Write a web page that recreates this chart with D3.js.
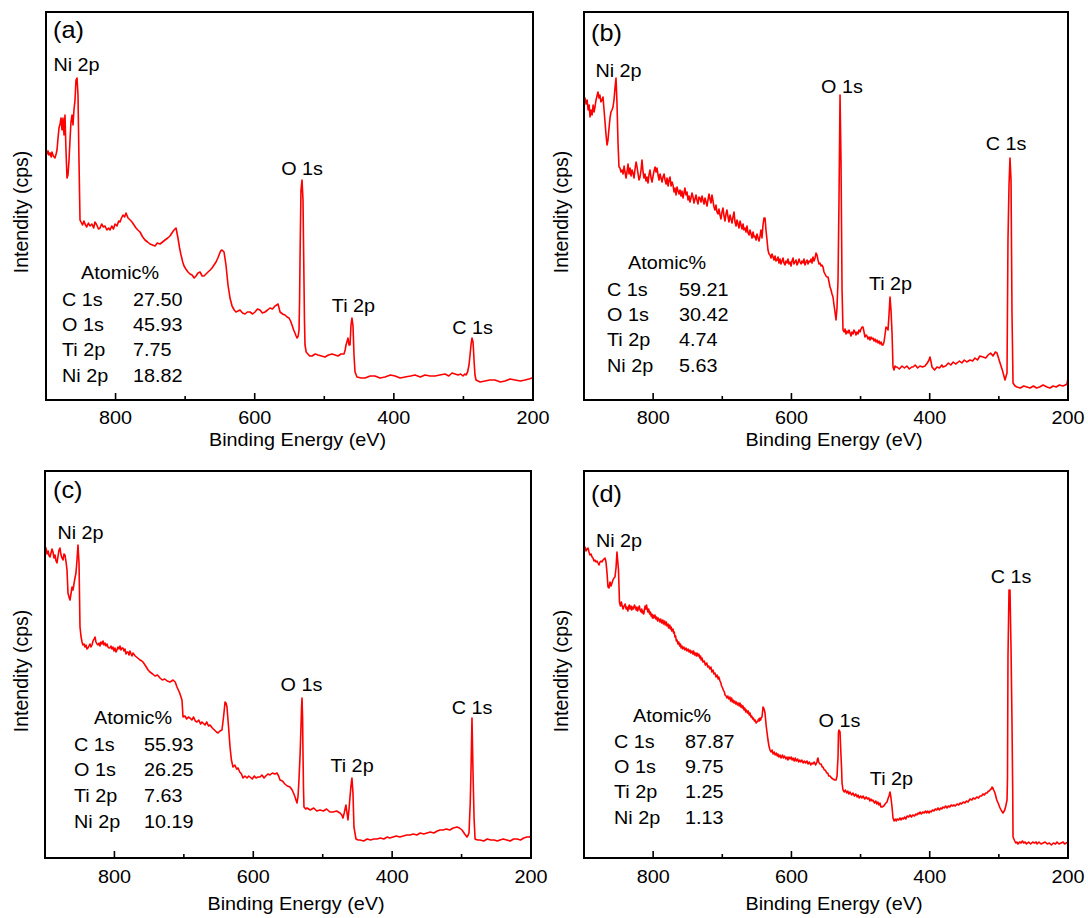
<!DOCTYPE html>
<html><head><meta charset="utf-8">
<script src="https://cdn.jsdelivr.net/npm/d3@7"></script>
<style>
body{margin:0;background:#fff;}
svg text{font-family:"Liberation Sans",Arial,sans-serif;fill:#000;}
</style>
</head><body><svg id="chart" width="1088" height="918"></svg>
<script>
// ---- DATA: [binding energy (eV), intensity (arb. cps units)] ----
const spectrumA = [[900,252],[898.5,246],[897,249],[895.7,245],[894,247],[892.5,243],[891.4,248],[889.5,244],[887.1,242],[885.5,246],[884.2,250],[882.7,262],[881.3,272],[879.8,276],[878.4,282],[877,270],[875.6,282],[874.1,265],[872.7,285],[871.3,250],[869.8,222],[868.4,225],[866.9,240],[865.5,260],[864.1,278],[862.6,285],[861.2,275],[859.8,290],[858.3,300],[856.9,320],[855.4,322],[854,305],[852.6,240],[851.1,180],[849.7,178],[847.5,175],[845.5,179],[843.9,176],[841.5,173],[839,177],[836.8,174],[834,176],[831.5,172],[829.6,178],[827,175],[824.5,171],[822.4,172],[820,176],[817.5,173],[815.2,174],[812.5,170],[810,172],[808,170],[805.5,174],[803,171],[800.8,176],[798,174],[795.5,179],[793.6,178],[791.5,182],[789.3,185],[787,183],[785,187],[782.1,182],[779,180],[776.4,178],[773.5,175],[770.6,172],[768,170],[764.9,168],[761,163],[757.7,160],[754,158],[750.5,156],[747,155],[743.3,154],[740,157],[736.1,156],[732.5,158],[728.9,160],[725,162],[721.8,164],[719,167],[716,170],[713.1,172],[710.3,162],[708,152],[705.9,145],[703.5,138],[701.6,134],[699,131],[695.9,128],[693,126],[690.1,125],[687,122],[684.4,124],[681.5,127],[678.6,128],[675.5,124],[672.9,124],[670,126],[667.1,128],[664,130],[661.4,132],[658.5,135],[655.6,138],[653,142],[651.3,145],[649,149],[647,150],[644.1,148],[641.3,135],[638.4,115],[635.5,102],[632.6,94],[629.5,90],[626.9,88],[624,89],[621.1,90],[617.5,87],[614,86],[610.5,88],[606.8,88],[603,86],[599.6,88],[596,91],[592.4,90],[589,87],[585.2,88],[581.5,90],[578,92],[574.5,91],[570.8,94],[568.5,95],[566.5,96],[565,92],[563.6,88],[560,86],[556.5,85],[553.5,83],[550.7,82],[548.5,79],[546.4,75],[544,70],[542.1,67],[540.5,64],[539.2,62],[537.5,64],[536.3,70],[535.5,100],[534.9,140],[533.5,210],[532,220],[530.6,200],[529.2,120],[528.5,80],[527.7,55],[526,48],[524.8,47],[521,44],[517.7,44],[513,46],[509,45],[504,44],[499,43],[494,45],[488.9,46],[484.5,45],[480.3,44],[476,46],[471.7,46],[470,50],[468.8,55],[467.5,58],[465.9,62],[464.5,55],[463,55],[462.3,65],[461.6,75],[460.2,82],[458.7,74],[457.3,45],[455.8,28],[453,23],[447,22],[441.5,22],[434,24],[427.1,24],[420,22],[412.7,23],[405,25],[398.3,24],[391,22],[383.9,23],[376,24],[369.6,25],[362,23],[355.2,25],[348,24],[340.8,24],[334,25],[326.5,26],[321,24],[316.4,27],[312,26],[307.8,25],[304,26],[300.6,24],[298,26],[296.3,25],[294,28],[292,35],[290.5,45],[289.1,55],[287.7,62],[286.2,58],[285.5,50],[284.8,40],[283.4,25],[281.9,20],[276,18],[269,19],[262,20],[254.6,20],[247,18],[240.2,19],[233,21],[225.9,20],[218,19],[211.5,20],[206,21],[201.4,22],[200,23]];

const spectrumB = [[900,302],[898.6,302],[897,296],[895.5,300],[894,290],[892.5,295],[891.3,283],[889.8,290],[888.3,285],[886.8,295],[885.5,288],[884.1,293],[882.6,300],[881.2,304],[879.8,308],[878.3,302],[877,305],[875.5,298],[874,300],[872.5,303],[871,290],[869.6,278],[868.1,265],[866.7,255],[865.3,260],[863.8,272],[862.4,282],[861,288],[859.5,290],[858.1,293],[856.6,300],[855.2,312],[853.7,322],[852.3,297],[850.8,257],[849.4,233],[847.9,232],[846.5,228],[845,230],[843.5,226],[842,234],[840.7,228],[839.2,222],[837.8,228],[836.3,236],[834.9,226],[833.4,232],[832,224],[830.5,230],[829.1,227],[827.6,222],[826.2,231],[824.7,238],[823.3,233],[821.8,226],[820.4,220],[819,223],[817.5,230],[816.1,240],[814.6,228],[813.2,222],[811.8,226],[810.3,219],[808.9,223],[807.4,217],[806,225],[804.5,230],[803,222],[801.6,218],[800.1,224],[798.7,229],[797.2,233],[795.8,228],[794.4,232],[792.9,225],[791.5,220],[790,226],[788.6,222],[787.1,218],[785.7,223],[784.2,226],[782.8,220],[781.3,216],[779.9,222],[778.4,214],[777,220],[775.6,223],[774.1,214],[772.7,218],[771.3,215],[769.8,208],[768.4,212],[766.9,205],[765.5,213],[764,209],[762.6,206],[761.2,210],[759.7,204],[758.3,209],[756.8,202],[755.4,207],[754,212],[752.5,205],[751,208],[749.6,200],[748.1,204],[746.7,198],[745.3,202],[743.8,207],[742.4,203],[740.9,197],[739.5,201],[738,205],[736.6,200],[735.1,196],[733.7,203],[732.2,202],[730.8,198],[729.3,204],[727.9,200],[726.4,196],[725,202],[723.5,198],[722.1,194],[720.7,200],[719.2,206],[717.8,201],[716.3,197],[714.9,205],[713.4,199],[712,193],[710.6,190],[709.1,195],[707.7,188],[706.2,186],[704.8,191],[703.3,185],[701.9,181],[700.4,188],[699,192],[697.5,184],[696.1,179],[694.6,186],[693.2,190],[691.7,183],[690.3,178],[688.8,185],[687.4,181],[685.9,177],[684.5,183],[683,188],[681.6,178],[680.1,174],[678.7,180],[677.2,176],[675.8,172],[674.3,179],[672.9,175],[671.4,171],[670,176],[668.6,170],[667.1,172],[665.7,168],[664.2,174],[662.8,167],[661.3,165],[659.9,170],[658.4,166],[657,162],[655.5,168],[654.1,163],[652.7,164],[651.2,160],[649.8,166],[648.3,162],[646.9,159],[645.4,164],[644,170],[642.6,162],[641.1,175],[639.7,182],[638.2,182],[636.8,170],[635.3,160],[633.9,150],[632.4,146],[631,145],[629.5,142],[628.1,146],[626.6,143],[625.2,140],[623.7,144],[622.3,139],[620.9,140],[619.4,143],[618,137],[616.5,141],[615.1,136],[613.6,139],[612.2,142],[610.8,137],[609.3,135],[607.9,139],[606.4,137],[605,141],[603.5,136],[602,138],[600.6,134],[599.2,139],[597.7,142],[596.3,136],[594.8,138],[593.4,140],[591.9,135],[590.5,137],[589,141],[587.6,138],[586.1,136],[584.7,139],[583.2,137],[581.8,141],[580.3,135],[578.9,138],[577.4,140],[576,136],[574.5,139],[573.1,138],[571.6,141],[570.2,137],[568.8,143],[567.3,139],[565.9,142],[564.4,147],[563,145],[561.6,140],[560.1,136],[558.7,137],[557.2,134],[555.8,135],[554.3,133],[552.9,128],[551.4,126],[550,124],[548.5,123],[547.1,123],[545.6,118],[544.2,113],[542.7,110],[541.3,106],[539.9,103],[538.4,95],[537,88],[535.5,80],[534.1,92],[532.6,120],[531.2,200],[529.7,305],[528.3,240],[526.8,110],[525.4,70],[523.9,68],[522.5,71],[521,66],[519.6,69],[518.1,67],[516.7,70],[515.3,67],[513.8,64],[512.4,68],[510.9,66],[509.5,70],[508,68],[506.6,65],[505.2,68],[503.7,66],[502.3,70],[500.8,68],[499.4,71],[497.9,73],[496.5,73],[495,68],[493.6,63],[492.1,65],[490.7,64],[489.2,61],[487.8,63],[486.3,60],[484.9,63],[483.4,61],[482,62],[480.5,59],[479.1,61],[477.6,58],[476.2,60],[474.7,57],[473.3,59],[471.8,56],[470.4,58],[468.9,55],[467.6,55],[466.1,58],[464.7,65],[463.2,73],[461.8,72],[460.3,70],[458.9,85],[457.4,103],[456,90],[454.5,67],[453.1,33],[451.6,30],[450.2,34],[448.7,33],[447.3,33],[444,31],[440,34],[436.5,32],[433,34],[429.5,31],[426,33],[424.2,33],[421,35],[417.5,32],[414,34],[410.5,33],[406.8,34],[403.5,37],[401,40],[399.6,43],[398,38],[396.7,33],[393,30],[389.5,33],[386,32],[382.5,35],[380.8,33],[377,34],[373,37],[369.5,35],[366,38],[362.5,36],[360.5,37],[357,39],[353.5,37],[350,40],[346.5,38],[341.7,40],[338,39],[334.5,42],[331,40],[327.5,44],[322.9,43],[319,42],[315.5,45],[312,47],[308.5,44],[305,48],[302.7,47],[300.5,42],[298.3,37],[295,30],[291.1,20],[289.5,24],[288.2,27],[286.8,160],[285.3,215],[283.9,242],[282.4,220],[281,87],[279.5,17],[276.5,14],[273.8,13],[269,12],[264,14],[259.5,13],[254.9,12],[250,14],[245.5,12],[241,13],[236,15],[230.4,13],[226,12],[221.5,14],[217,13],[212.5,15],[207.2,14],[204,15],[201.5,16],[200,22]];

const spectrumC = [[900,308],[898.6,310],[897,304],[895.5,307],[894,302],[892.8,301],[891.3,305],[889.9,309],[888.5,306],[887,300],[885.6,303],[884.1,297],[882.7,295],[881.2,302],[879.8,308],[878.4,310],[876.9,303],[875.5,300],[874.1,298],[872.6,304],[871.2,303],[869.7,296],[868.3,288],[866.9,265],[865.4,261],[864,258],[862.6,264],[861.1,271],[859.7,268],[858.3,274],[856.8,280],[855.4,285],[853.9,298],[852.5,313],[851,295],[849.6,231],[848.2,222],[846.7,216],[845.3,213],[843.8,214],[842.4,211],[841,213],[839.5,209],[838.1,210],[836.7,212],[835.2,214],[833.8,211],[832.3,213],[830.9,217],[829.4,219],[828,221],[826.6,216],[825.1,214],[823.7,213],[822.2,215],[820.8,212],[819.4,216],[817.9,214],[816.5,217],[815,213],[813.6,215],[812.2,212],[810.7,214],[809.3,211],[807.8,210],[806.4,210],[805,212],[803.5,209],[802.1,211],[800.6,207],[799.2,210],[797.7,206],[796.3,208],[794.9,211],[793.4,209],[792,212],[790.5,208],[789.1,210],[787.7,210],[786.2,207],[784.8,209],[783.3,204],[781.9,206],[780.5,206],[779,203],[777.6,207],[776.1,204],[774.7,202],[773.3,205],[770,202],[766.5,200],[763.2,198],[760.5,197],[758.9,196],[755,192],[751.5,188],[748.8,186],[745,184],[741.5,182],[738,183],[734.4,180],[731,178],[727.5,179],[724,177],[720,176],[717.5,177],[715.6,178],[712.5,176],[709.9,171],[706,165],[702.7,158],[701.2,141],[698.5,142],[696,139],[693.5,141],[691.2,140],[688.5,138],[686,141],[683.5,137],[681.1,136],[678.5,138],[676,134],[674,136],[672.4,135],[669.5,133],[667,136],[664.5,132],[662.3,133],[659,130],[656,128],[653,126],[650.8,125],[648,127],[645.1,128],[643,140],[641.5,150],[640.7,156],[639.3,155],[637.9,151],[635.5,130],[633.5,111],[631.5,98],[629.2,91],[626.5,93],[624,89],[622,90],[619.5,86],[617,84],[614.8,80],[612,82],[609,80],[606.5,82],[604.7,81],[601.5,79],[598.5,82],[596,80],[593.2,81],[590.3,81],[587.5,83],[584.5,80],[582,82],[579,84],[575.9,83],[572.5,85],[569,84],[565.9,85],[563.5,82],[561.5,78],[558,77],[554.5,74],[551,72],[547.1,71],[544,68],[541.5,64],[539.9,61],[538.5,58],[537,55],[535.5,62],[534.2,78],[532.5,105],[531.3,131],[530.5,150],[529.8,160],[529,140],[528.4,105],[527.7,70],[527,51],[524.5,49],[522.6,50],[518,48],[513,50],[508.5,47],[503.9,48],[499,47],[494.5,49],[489.5,46],[485.2,46],[480,47],[475.1,45],[472.5,43],[470.8,40],[469,45],[467.5,50],[466.5,53],[465,45],[463.6,38],[462.2,48],[460.7,61],[459.3,72],[457.9,80],[456.4,65],[455,31],[452.1,19],[449,18],[446.3,18],[441,17],[436,19],[431,18],[426.5,19],[421.8,19],[417,20],[412,19],[407,21],[403.5,20],[398.8,21],[394,22],[389,21],[384,22],[379,23],[374.3,23],[369.5,24],[364.5,23],[359.5,25],[354.5,24],[349.8,25],[345,26],[340,25],[335,27],[331,28],[326.8,28],[322,29],[317,28],[312,30],[306.6,31],[303,30],[299.4,28],[295.5,24],[292.2,21],[290.5,23],[289.3,25],[287.5,55],[286.4,88],[285,140],[283.5,85],[282,40],[280.6,19],[277,18],[273.5,18],[268,17],[263,19],[258,18],[253,18],[248.5,17],[244.7,18],[240,19],[235,18],[230,17],[225,19],[220.2,19],[215,18],[210.5,20],[205.8,21],[202.5,21],[200,22]];

const spectrumD = [[900,311],[898.6,311],[897,307],[895.7,309],[894.2,310],[892.8,306],[891.3,303],[889.8,304],[888.4,301],[887,300],[885.5,297],[884.1,298],[882.7,296],[881.2,297],[879.8,295],[878.3,293],[876.9,296],[875.4,297],[874,296],[872.5,298],[871.1,299],[869.6,300],[868.2,296],[866.7,285],[865.3,271],[863.8,270],[862.4,276],[860.9,272],[859.5,275],[858.1,278],[856.6,280],[855.2,281],[853.7,290],[852.3,306],[850.1,288],[848.7,256],[847.3,252],[846,256],[845,253],[843.5,249],[842,252],[840.5,254],[839,249],[838,251],[836.5,247],[835.6,251],[834.5,253],[833.5,249],[832,252],[831,248],[829.5,251],[828.5,249],[827,253],[826,251],[824.5,248],[823.5,251],[822.5,247],[821.4,249],[820,252],[819,248],[817.5,246],[816.5,249],[815.5,245],[814.7,247],[813.5,244],[812.5,249],[811.5,252],[810.5,249],[809.5,253],[808.9,250],[807.5,246],[806.5,249],[805,244],[804,246],[803,242],[802,244],[801,240],[800.2,243],[799,240],[797.5,243],[796,239],[795,241],[793.5,237],[792.5,240],[791,238],[790.1,236],[789,239],[787.5,235],[786,238],[785,234],[783.5,237],[782.5,233],[781,236],[780,232],[778.5,234],[777.5,230],[776,233],[775,229],[774,231],[773,227],[771.3,229],[770.5,225],[769.5,226],[768.5,221],[767.5,222],[766.5,217],[765.5,218],[764,214],[763,216],[761.5,212],[760.5,214],[759.5,210],[758.3,212],[757,209],[755.5,211],[754,208],[752.5,210],[751,207],[749.5,209],[748,206],[746.7,208],[745.5,205],[744,207],[742.5,204],[741.5,207],[740,203],[739,205],[737.5,202],[736.6,205],[735,202],[734,204],[732.5,200],[731.5,202],[730.5,198],[729.3,200],[728,196],[726,197],[724.5,193],[722.5,195],[721,191],[719.5,192],[718,189],[716.5,191],[715,186],[713.5,188],[712,184],[710.5,185],[709,181],[707.5,183],[706,179],[705,181],[703.3,177],[702,175],[701,172],[699.5,170],[698.5,168],[697,166],[696,163],[694.5,162],[693.2,160],[692,162],[690.5,159],[689,161],[688,157],[686.5,160],[685.5,156],[684.5,158],[683,155],[682,157],[680.5,154],[679.5,156],[678,153],[677,155],[675.5,152],[674.5,155],[673,151],[672,153],[671,150],[670,152],[668.5,148],[667.5,150],[666,146],[665,148],[663.5,145],[662.5,147],[661,143],[659.9,145],[658.5,141],[657.5,142],[656,139],[655,140],[653.5,137],[652.5,138],[651,135],[649.8,136],[648.5,137],[647.5,139],[646.5,137],[645.5,140],[644.5,138],[643.8,140],[642.6,141],[641.8,146],[641.1,151],[640.2,150],[639.2,148],[638.2,145],[636.5,132],[635,124],[633.9,118],[632.5,112],[631,108],[629.5,106],[628,108],[626.5,104],[625,106],[623.5,103],[622,105],[620.5,102],[619.5,104],[618,101],[616.5,103],[615,100],[613,103],[611.5,100],[610,102],[608,99],[606.5,101],[605,98],[603.5,101],[602,99],[600.5,101],[599,98],[597.7,100],[596,97],[594.5,100],[593,97],[591,99],[589.5,96],[588,98],[586.5,96],[585,98],[583,95],[581.5,97],[579.5,95],[577.5,97],[576,94],[574,96],[572,93],[570.5,95],[569,94],[567,96],[565,93],[563,96],[562.3,99],[561.6,100],[560.5,96],[559,94],[557,94],[555.5,91],[554.3,91],[552.5,88],[551,88],[549,85],[547.5,85],[546,82],[544.2,82],[542,80],[539.9,79],[537.5,78],[535.5,78],[534,82],[533.5,90],[532.6,101],[532,125],[531.2,128],[530.5,127],[529.7,126],[528.8,110],[527.5,90],[526.8,75],[525.4,68],[523.5,66],[522,68],[520,65],[518.5,67],[517,64],[515.3,66],[513,63],[511,65],[509,62],[507,64],[505,61],[503.7,63],[502,60],[500,62],[498,60],[496.5,62],[494,59],[492,61],[490,59],[488,60],[486.5,57],[485,59],[483.5,57],[482,58],[480,55],[478,57],[476.5,54],[475,56],[473.5,53],[472,55],[470.5,51],[469,51],[466.5,52],[464.5,54],[461.8,56],[460,60],[458.9,62],[457.4,66],[456,60],[454.5,51],[453.1,40],[451.5,37],[450,39],[448.5,37],[447.3,39],[445,38],[443,40],[441.5,38],[440,40],[438,39],[436.5,41],[434.5,39],[432.8,42],[430.5,41],[428.5,43],[426.5,41],[424.5,43],[422,42],[420,44],[418.5,43],[417,45],[415.5,44],[414,46],[412,44],[410,46],[408,45],[406,47],[404.5,45],[403,47],[401,45],[399.6,47],[398,46],[396,48],[394,47],[392,49],[390,48],[388,50],[386,48],[384,50],[382.5,49],[380.8,51],[379,50],[377,52],[375,50],[373,52],[371,51],[369,53],[367,52],[365,53],[363,52],[360.5,54],[358,53],[356,55],[354,54],[351.5,56],[349,55],[347,57],[344.5,56],[341.7,59],[339,58],[337,60],[334.5,59],[332,61],[329.5,60],[327.3,62],[325,62],[323,64],[321,63],[319,65],[317,65],[315,67],[313.5,67],[312,69],[310.5,69],[309.9,71],[308.5,70],[307.5,68],[305.6,65],[303,58],[300.5,54],[298.3,50],[296,47],[294,45],[291.5,48],[290,52],[288.2,58],[287.5,80],[286.8,201],[285.3,268],[283.9,268],[282.4,210],[281,135],[280,70],[279.5,21],[277,17],[275.5,15],[274,16],[272.3,14],[270,16],[268,15],[266,17],[264,15],[262,16],[260,14],[257,16],[254,14],[251,16],[248.5,15],[246,16],[244.8,14],[242,16],[239,14],[236,15],[233,16],[230,14],[227,15],[224,13],[221,15],[218,14],[215.9,16],[213,14],[210,15],[207,16],[205,14],[202.5,15],[200,16]];

const elements = ["C 1s", "O 1s", "Ti 2p", "Ni 2p"];
const atomicA = ["27.50", "45.93", "7.75", "18.82"];
const atomicB = ["59.21", "30.42", "4.74", "5.63"];
const atomicC = ["55.93", "26.25", "7.63", "10.19"];
const atomicD = ["87.87", "9.75", "1.25", "1.13"];
const peakNames = ["Ni 2p", "O 1s", "Ti 2p", "C 1s"];
const majorTicks = [800, 600, 400, 200];
const minorTicks = [700, 500, 300];
const energyDomain = [900, 200];
const panelLetters = ["(a)", "(b)", "(c)", "(d)"];
const xTitle = "Binding Energy (eV)";
const yTitle = "Intendity (cps)";

// ---- LAYOUT ----
const panels = [
  {letter: panelLetters[0], data: spectrumA, atomic: atomicA,
   box: {l: 46, t: 12, r: 533, b: 400}, letterPos: [7, 26], ylabX: 28, ylabY: 212,
   tickDy: 23.5, titleDy: 46,
   table: {cx: 74, ty: 266.5, lx: 16, vx: 87, rows: [293.5, 318.5, 343.5, 369.5]},
   peaks: [[856.2, 329.5], [532, 225.5], [458, 88.5], [286.9, 66.5]]},
  {letter: panelLetters[1], data: spectrumB, atomic: atomicB,
   box: {l: 584, t: 12, r: 1068, b: 400}, letterPos: [7, 29], ylabX: 568, ylabY: 212,
   tickDy: 23.5, titleDy: 46,
   table: {cx: 83, ty: 256.5, lx: 23, vx: 95, rows: [283.5, 308.5, 333.5, 359.5]},
   peaks: [[850.1, 323.5], [526.9, 307.5], [456.7, 110.5], [289.7, 250.5]]},
  {letter: panelLetters[2], data: spectrumC, atomic: atomicC,
   box: {l: 45, t: 471, r: 531, b: 858}, letterPos: [8, 27], ylabX: 28, ylabY: 671,
   tickDy: 25, titleDy: 52,
   table: {cx: 88, ty: 252.5, lx: 29, vx: 99, rows: [279.5, 304.5, 330.5, 356.5]},
   peaks: [[848.9, 319.5], [530.6, 167.5], [457.8, 86.5], [285.0, 144.5]]},
  {letter: panelLetters[3], data: spectrumD, atomic: atomicD,
   box: {l: 584, t: 471, r: 1068, b: 858}, letterPos: [7, 31], ylabX: 568, ylabY: 671,
   tickDy: 25, titleDy: 52,
   table: {cx: 88, ty: 250.5, lx: 30, vx: 101, rows: [276.5, 301.5, 326.5, 352.5]},
   peaks: [[849.4, 311.5], [530.5, 131.5], [455.3, 73.5], [282.4, 275.5]]}
];

const SX = 1.1;
const svg = d3.select("#chart");

function txt(g, x, y, s, o = {}) {
  return g.append("text")
    .attr("transform", `translate(${x},${y}) scale(${o.sx || SX},1)`)
    .attr("text-anchor", o.anchor || "start")
    .style("font-size", (o.size || 18) + "px")
    .text(s);
}

panels.forEach(p => {
  const b = p.box;
  const x = d3.scaleLinear().domain(energyDomain).range([b.l, b.r]);
  const y = d3.scaleLinear().domain([0, b.b - b.t]).range([b.b, b.t]);
  const g = svg.append("g");

  // spectrum line
  const line = d3.line().x(d => x(d[0])).y(d => y(d[1]));
  g.append("path").datum(p.data)
    .attr("d", line).attr("fill", "none")
    .attr("stroke", "#ff0000").attr("stroke-width", 1.6)
    .attr("stroke-linejoin", "round");

  // ticks (inward)
  g.selectAll(".maj").data(majorTicks.filter(t => t > 200)).enter().append("line")
    .attr("x1", d => x(d)).attr("x2", d => x(d))
    .attr("y1", b.b).attr("y2", b.b - 7)
    .attr("stroke", "#000").attr("stroke-width", 1.6);
  g.selectAll(".min").data(minorTicks).enter().append("line")
    .attr("x1", d => x(d)).attr("x2", d => x(d))
    .attr("y1", b.b).attr("y2", b.b - 4)
    .attr("stroke", "#000").attr("stroke-width", 1.6);

  // frame
  g.append("rect").attr("x", b.l).attr("y", b.t)
    .attr("width", b.r - b.l).attr("height", b.b - b.t)
    .attr("fill", "none").attr("stroke", "#000").attr("stroke-width", 2);

  // tick labels
  majorTicks.forEach(t => txt(g, x(t), b.b + p.tickDy, String(t), {anchor: "middle"}));

  // axis titles
  txt(g, (b.l + b.r) / 2 + 8, b.b + p.titleDy, xTitle, {anchor: "middle"});
  g.append("text")
    .attr("transform", `translate(${p.ylabX},${p.ylabY}) rotate(-90)`)
    .attr("text-anchor", "middle").style("font-size", "19.5px")
    .text(yTitle);

  // panel letter
  txt(g, b.l + p.letterPos[0], b.t + p.letterPos[1], p.letter, {size: 23});

  // peak labels
  p.peaks.forEach((pk, i) => txt(g, x(pk[0]), y(pk[1]), peakNames[i], {anchor: "middle"}));

  // atomic % table
  const tb = p.table;
  txt(g, b.l + tb.cx, b.t + tb.ty, "Atomic%", {anchor: "middle"});
  elements.forEach((el, i) => {
    txt(g, b.l + tb.lx, b.t + tb.rows[i], el);
    txt(g, b.l + tb.vx, b.t + tb.rows[i], p.atomic[i]);
  });
});
</script>
</body></html>
